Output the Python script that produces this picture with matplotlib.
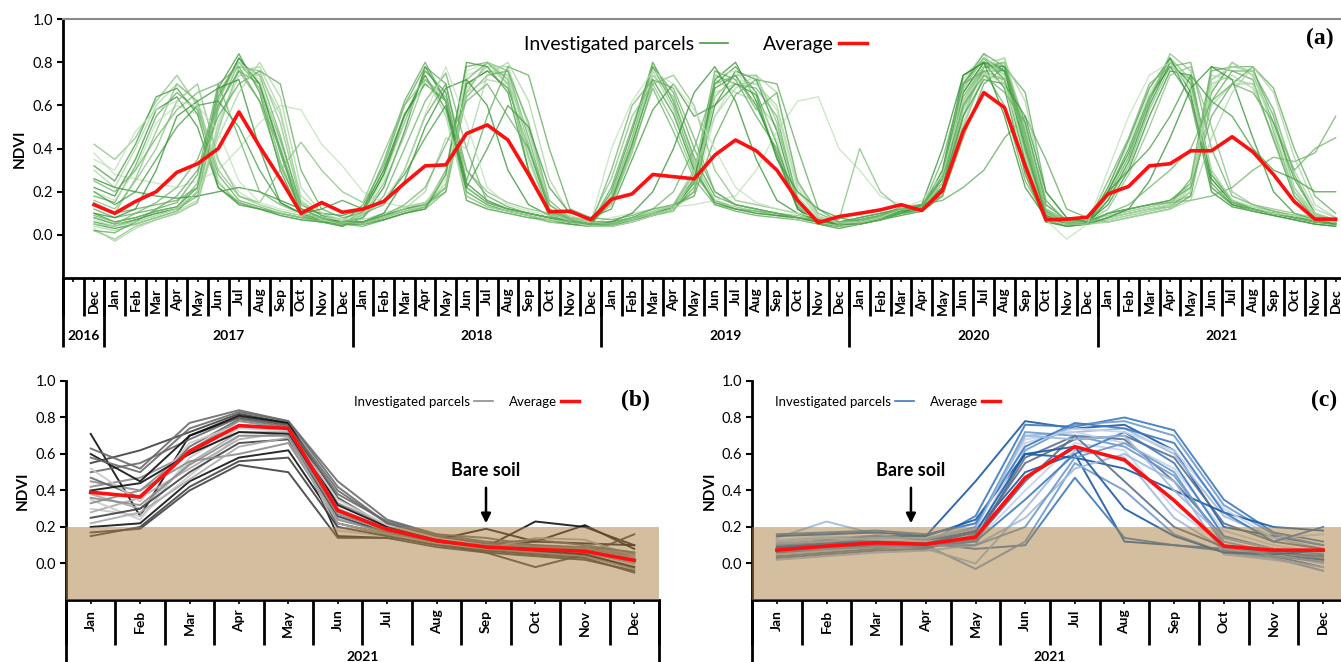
"""NDVI time series of investigated parcels: (a) Dec 2016 - Dec 2021, (b) and (c) 2021.

Writes out.png (1341x662).
"""

import matplotlib
matplotlib.use("Agg")
import matplotlib.pyplot as plt
import matplotlib.transforms as mtransforms
from matplotlib.lines import Line2D

plt.rcParams["font.family"] = ["Lato", "DejaVu Sans"]

MONTHS = ["Jan", "Feb", "Mar", "Apr", "May", "Jun",
          "Jul", "Aug", "Sep", "Oct", "Nov", "Dec"]

# panel (a): one blank slot, Dec 2016, then 2017..2021
months_a = ["", "Dec"] + MONTHS * 5
years_a = ["2016", "2017", "2018", "2019", "2020", "2021"]
year_len_a = [2, 12, 12, 12, 12, 12]

avg_a = [
    0.14,
    0.10, 0.155, 0.20, 0.29, 0.33, 0.40, 0.57, 0.41, 0.26, 0.10, 0.15, 0.105,
    0.12, 0.155, 0.24, 0.32, 0.325, 0.47, 0.51, 0.44, 0.28, 0.107, 0.11, 0.07,
    0.165, 0.19, 0.28, 0.27, 0.26, 0.37, 0.44, 0.39, 0.30, 0.16, 0.057, 0.085,
    0.10, 0.116, 0.14, 0.113, 0.205, 0.48, 0.66, 0.59, 0.32, 0.07, 0.073, 0.082,
    0.19, 0.225, 0.32, 0.33, 0.39, 0.39, 0.455, 0.385, 0.28, 0.155, 0.073, 0.073,
]

parcels_a = [
    [0.05,
     0.03, 0.05, 0.08, 0.11, 0.20, 0.62, 0.82, 0.70, 0.40, 0.10, 0.07, 0.04,
     0.08, 0.22, 0.48, 0.78, 0.62, 0.18, 0.13, 0.11, 0.09, 0.06, 0.05, 0.04,
     0.04, 0.06, 0.09, 0.12, 0.22, 0.68, 0.74, 0.60, 0.38, 0.12, 0.05, 0.03,
     0.05, 0.07, 0.10, 0.11, 0.28, 0.70, 0.82, 0.76, 0.35, 0.07, 0.04, 0.05,
     0.20, 0.38, 0.62, 0.82, 0.66, 0.22, 0.14, 0.11, 0.09, 0.07, 0.05, 0.04],
    [0.18,
     0.15, 0.32, 0.55, 0.66, 0.58, 0.28, 0.16, 0.13, 0.10, 0.08, 0.06, 0.05,
     0.04, 0.07, 0.10, 0.13, 0.30, 0.78, 0.80, 0.72, 0.30, 0.09, 0.06, 0.04,
     0.18, 0.45, 0.78, 0.60, 0.32, 0.14, 0.11, 0.09, 0.08, 0.07, 0.05, 0.04,
     0.07, 0.09, 0.13, 0.14, 0.22, 0.60, 0.78, 0.80, 0.45, 0.10, 0.06, 0.07,
     0.09, 0.11, 0.13, 0.15, 0.18, 0.72, 0.78, 0.76, 0.55, 0.22, 0.09, 0.06],
    [0.02,
     -0.02, 0.04, 0.07, 0.10, 0.15, 0.48, 0.78, 0.76, 0.52, 0.15, 0.09, 0.06,
     0.06, 0.09, 0.12, 0.15, 0.22, 0.70, 0.76, 0.74, 0.42, 0.12, 0.08, 0.06,
     0.14, 0.38, 0.70, 0.52, 0.28, 0.16, 0.13, 0.11, 0.10, 0.09, 0.07, 0.06,
     0.08, 0.10, 0.12, 0.13, 0.20, 0.58, 0.76, 0.72, 0.42, 0.09, 0.06, 0.06,
     0.16, 0.32, 0.58, 0.78, 0.72, 0.30, 0.16, 0.13, 0.11, 0.09, 0.07, 0.06],
    [0.30,
     0.22, 0.40, 0.60, 0.70, 0.62, 0.25, 0.14, 0.12, 0.09, 0.07, 0.06, 0.04,
     0.12, 0.30, 0.55, 0.74, 0.55, 0.16, 0.12, 0.10, 0.08, 0.06, 0.05, 0.04,
     0.05, 0.08, 0.11, 0.14, 0.30, 0.72, 0.66, 0.62, 0.50, 0.18, 0.07, 0.05,
     0.06, 0.08, 0.11, 0.13, 0.30, 0.72, 0.84, 0.70, 0.30, 0.06, 0.04, 0.05,
     0.07, 0.09, 0.11, 0.13, 0.22, 0.74, 0.72, 0.70, 0.45, 0.18, 0.07, 0.04],
    [0.10,
     0.06, 0.08, 0.11, 0.13, 0.22, 0.68, 0.84, 0.66, 0.30, 0.09, 0.06, 0.04,
     0.10, 0.28, 0.52, 0.76, 0.66, 0.22, 0.15, 0.12, 0.10, 0.08, 0.06, 0.05,
     0.20, 0.48, 0.80, 0.62, 0.36, 0.18, 0.14, 0.12, 0.10, 0.08, 0.06, 0.05,
     0.05, 0.07, 0.10, 0.12, 0.24, 0.66, 0.80, 0.78, 0.48, 0.11, 0.07, 0.06,
     0.10, 0.12, 0.14, 0.16, 0.24, 0.66, 0.80, 0.74, 0.52, 0.26, 0.10, 0.07],
    [0.38,
     0.28, 0.26, 0.24, 0.22, 0.25, 0.30, 0.40, 0.52, 0.60, 0.58, 0.42, 0.32,
     0.20, 0.15, 0.13, 0.15, 0.28, 0.74, 0.78, 0.70, 0.34, 0.10, 0.07, 0.05,
     0.06, 0.08, 0.10, 0.13, 0.18, 0.55, 0.72, 0.70, 0.58, 0.20, 0.08, 0.05,
     0.06, 0.08, 0.12, 0.12, 0.20, 0.62, 0.80, 0.82, 0.50, 0.12, 0.06, 0.05,
     0.22, 0.42, 0.66, 0.80, 0.68, 0.20, 0.13, 0.11, 0.10, 0.08, 0.06, 0.05],
    [0.08,
     0.05, 0.07, 0.10, 0.12, 0.18, 0.58, 0.80, 0.74, 0.46, 0.12, 0.08, 0.06,
     0.05, 0.07, 0.10, 0.12, 0.20, 0.72, 0.80, 0.76, 0.45, 0.12, 0.07, 0.05,
     0.04, 0.06, 0.09, 0.11, 0.25, 0.74, 0.70, 0.68, 0.55, 0.16, 0.06, 0.04,
     0.06, 0.08, 0.11, 0.12, 0.26, 0.68, 0.82, 0.74, 0.38, 0.08, 0.05, 0.05,
     0.08, 0.10, 0.12, 0.13, 0.20, 0.76, 0.78, 0.78, 0.48, 0.20, 0.08, 0.05],
    [0.22,
     0.18, 0.35, 0.58, 0.64, 0.50, 0.22, 0.15, 0.12, 0.10, 0.08, 0.07, 0.05,
     0.06, 0.09, 0.12, 0.14, 0.22, 0.70, 0.76, 0.68, 0.40, 0.11, 0.07, 0.05,
     0.05, 0.07, 0.10, 0.13, 0.20, 0.60, 0.76, 0.72, 0.48, 0.14, 0.06, 0.04,
     0.05, 0.07, 0.09, 0.11, 0.18, 0.55, 0.78, 0.78, 0.52, 0.14, 0.07, 0.06,
     0.14, 0.30, 0.55, 0.76, 0.74, 0.28, 0.16, 0.12, 0.10, 0.08, 0.07, 0.06],
    [0.12,
     0.08, 0.10, 0.12, 0.15, 0.28, 0.70, 0.78, 0.62, 0.32, 0.12, 0.08, 0.06,
     0.14, 0.32, 0.60, 0.78, 0.70, 0.30, 0.18, 0.13, 0.10, 0.08, 0.06, 0.05,
     0.06, 0.08, 0.10, 0.14, 0.28, 0.76, 0.72, 0.55, 0.40, 0.14, 0.07, 0.05,
     0.08, 0.10, 0.12, 0.14, 0.16, 0.22, 0.30, 0.45, 0.55, 0.35, 0.12, 0.08,
     0.06, 0.08, 0.10, 0.12, 0.18, 0.62, 0.76, 0.76, 0.58, 0.28, 0.10, 0.06],
    [0.15,
     0.10, 0.26, 0.48, 0.70, 0.62, 0.30, 0.18, 0.14, 0.11, 0.09, 0.07, 0.06,
     0.09, 0.24, 0.46, 0.72, 0.64, 0.22, 0.15, 0.12, 0.10, 0.08, 0.06, 0.05,
     0.16, 0.42, 0.74, 0.64, 0.34, 0.16, 0.12, 0.10, 0.09, 0.08, 0.07, 0.06,
     0.07, 0.09, 0.12, 0.13, 0.22, 0.62, 0.78, 0.76, 0.44, 0.10, 0.06, 0.06,
     0.18, 0.36, 0.62, 0.84, 0.76, 0.26, 0.15, 0.12, 0.10, 0.08, 0.06, 0.05],
    [0.04,
     0.02, 0.05, 0.08, 0.11, 0.16, 0.52, 0.76, 0.78, 0.58, 0.16, 0.09, 0.06,
     0.06, 0.08, 0.11, 0.14, 0.24, 0.68, 0.78, 0.78, 0.50, 0.14, 0.08, 0.06,
     0.18, 0.44, 0.76, 0.58, 0.30, 0.15, 0.12, 0.10, 0.09, 0.07, 0.06, 0.05,
     0.05, 0.07, 0.10, 0.11, 0.22, 0.64, 0.80, 0.74, 0.36, 0.08, 0.05, 0.05,
     0.07, 0.09, 0.11, 0.13, 0.24, 0.70, 0.74, 0.68, 0.46, 0.20, 0.09, 0.05],
    [0.06,
     0.04, 0.07, 0.10, 0.12, 0.20, 0.64, 0.82, 0.70, 0.38, 0.10, 0.07, 0.05,
     0.11, 0.28, 0.55, 0.74, 0.58, 0.20, 0.14, 0.11, 0.09, 0.07, 0.05, 0.04,
     0.04, 0.07, 0.09, 0.12, 0.24, 0.70, 0.78, 0.66, 0.42, 0.13, 0.06, 0.04,
     0.06, 0.08, 0.11, 0.12, 0.24, 0.68, 0.82, 0.72, 0.34, 0.07, 0.05, 0.05,
     0.20, 0.40, 0.64, 0.78, 0.64, 0.24, 0.14, 0.12, 0.10, 0.08, 0.06, 0.05],
    [0.20,
     0.16, 0.30, 0.52, 0.60, 0.56, 0.34, 0.20, 0.14, 0.10, 0.08, 0.06, 0.05,
     0.05, 0.08, 0.11, 0.14, 0.26, 0.76, 0.80, 0.74, 0.38, 0.10, 0.07, 0.05,
     0.08, 0.10, 0.12, 0.13, 0.14, 0.16, 0.18, 0.30, 0.48, 0.62, 0.64, 0.40,
     0.30, 0.18, 0.14, 0.13, 0.20, 0.56, 0.76, 0.70, 0.40, 0.09, 0.06, 0.06,
     0.09, 0.11, 0.13, 0.15, 0.20, 0.68, 0.80, 0.74, 0.50, 0.22, 0.10, 0.07],
    [0.09,
     0.06, 0.08, 0.11, 0.13, 0.24, 0.66, 0.80, 0.68, 0.34, 0.10, 0.07, 0.05,
     0.06, 0.08, 0.12, 0.14, 0.20, 0.64, 0.74, 0.76, 0.52, 0.16, 0.08, 0.06,
     0.15, 0.40, 0.68, 0.48, 0.26, 0.14, 0.12, 0.11, 0.09, 0.08, 0.06, 0.05,
     0.07, 0.09, 0.12, 0.13, 0.20, 0.60, 0.76, 0.76, 0.46, 0.11, 0.06, 0.06,
     0.10, 0.12, 0.14, 0.15, 0.16, 0.18, 0.22, 0.30, 0.36, 0.34, 0.38, 0.55],
    [0.26,
     0.22, 0.20, 0.18, 0.17, 0.18, 0.20, 0.22, 0.20, 0.16, 0.12, 0.10, 0.09,
     0.12, 0.30, 0.56, 0.70, 0.62, 0.24, 0.16, 0.12, 0.10, 0.08, 0.06, 0.05,
     0.05, 0.07, 0.10, 0.13, 0.26, 0.72, 0.80, 0.62, 0.36, 0.12, 0.06, 0.04,
     0.06, 0.08, 0.11, 0.12, 0.30, 0.74, 0.80, 0.68, 0.28, 0.06, 0.04, 0.05,
     0.16, 0.34, 0.60, 0.80, 0.70, 0.26, 0.15, 0.12, 0.10, 0.08, 0.06, 0.05],
    [0.14,
     0.10, 0.12, 0.14, 0.16, 0.22, 0.60, 0.76, 0.70, 0.44, 0.14, 0.09, 0.07,
     0.12, 0.34, 0.62, 0.80, 0.62, 0.16, 0.12, 0.10, 0.08, 0.07, 0.06, 0.05,
     0.22, 0.50, 0.78, 0.66, 0.40, 0.20, 0.14, 0.12, 0.10, 0.08, 0.06, 0.05,
     0.06, 0.08, 0.11, 0.13, 0.26, 0.70, 0.84, 0.78, 0.42, 0.09, 0.05, 0.05,
     0.08, 0.10, 0.12, 0.14, 0.26, 0.78, 0.76, 0.72, 0.44, 0.18, 0.08, 0.05],
    [0.42,
     0.35, 0.45, 0.62, 0.74, 0.60, 0.24, 0.15, 0.12, 0.10, 0.08, 0.06, 0.05,
     0.05, 0.08, 0.11, 0.13, 0.22, 0.66, 0.80, 0.70, 0.36, 0.10, 0.06, 0.05,
     0.05, 0.07, 0.10, 0.12, 0.20, 0.64, 0.74, 0.74, 0.52, 0.16, 0.07, 0.05,
     0.06, 0.09, 0.12, 0.13, 0.24, 0.64, 0.78, 0.80, 0.48, 0.10, 0.06, 0.06,
     0.18, 0.36, 0.64, 0.82, 0.72, 0.28, 0.15, 0.12, 0.10, 0.08, 0.06, 0.05],
    [0.03,
     -0.03, 0.03, 0.07, 0.10, 0.15, 0.50, 0.74, 0.74, 0.56, 0.18, 0.10, 0.07,
     0.07, 0.10, 0.13, 0.15, 0.22, 0.66, 0.72, 0.70, 0.48, 0.14, 0.08, 0.06,
     0.05, 0.08, 0.11, 0.13, 0.22, 0.66, 0.70, 0.70, 0.60, 0.22, 0.08, 0.05,
     0.05, 0.08, 0.11, 0.12, 0.22, 0.60, 0.78, 0.82, 0.50, 0.12, 0.06, 0.05,
     0.06, 0.08, 0.10, 0.12, 0.20, 0.60, 0.70, 0.70, 0.56, 0.30, 0.12, 0.08],
    [0.32,
     0.25, 0.42, 0.64, 0.68, 0.56, 0.22, 0.14, 0.12, 0.09, 0.07, 0.06, 0.05,
     0.05, 0.07, 0.10, 0.12, 0.28, 0.80, 0.78, 0.66, 0.30, 0.09, 0.06, 0.05,
     0.16, 0.42, 0.72, 0.56, 0.30, 0.15, 0.12, 0.10, 0.09, 0.08, 0.06, 0.05,
     0.06, 0.08, 0.11, 0.12, 0.22, 0.66, 0.80, 0.76, 0.40, 0.09, 0.05, 0.05,
     0.22, 0.44, 0.68, 0.82, 0.62, 0.20, 0.13, 0.11, 0.09, 0.07, 0.05, 0.04],
    [0.07,
     0.04, 0.06, 0.09, 0.12, 0.20, 0.62, 0.80, 0.72, 0.42, 0.11, 0.07, 0.05,
     0.10, 0.26, 0.52, 0.72, 0.56, 0.18, 0.13, 0.11, 0.09, 0.07, 0.06, 0.04,
     0.04, 0.06, 0.09, 0.12, 0.28, 0.74, 0.76, 0.64, 0.44, 0.14, 0.06, 0.04,
     0.05, 0.07, 0.10, 0.12, 0.24, 0.68, 0.82, 0.74, 0.36, 0.07, -0.02, 0.05,
     0.08, 0.10, 0.12, 0.14, 0.22, 0.72, 0.78, 0.76, 0.50, 0.22, 0.08, 0.05],
    [0.25,
     0.20, 0.30, 0.45, 0.58, 0.66, 0.70, 0.45, 0.20, 0.14, 0.10, 0.08, 0.06,
     0.08, 0.18, 0.40, 0.62, 0.75, 0.40, 0.15, 0.12, 0.10, 0.08, 0.06, 0.05,
     0.30, 0.60, 0.72, 0.68, 0.45, 0.20, 0.14, 0.12, 0.10, 0.08, 0.07, 0.06,
     0.06, 0.08, 0.10, 0.12, 0.35, 0.70, 0.76, 0.60, 0.25, 0.08, 0.05, 0.05,
     0.25, 0.45, 0.70, 0.78, 0.80, 0.40, 0.18, 0.14, 0.11, 0.09, 0.07, 0.06],
    [0.10,
     0.08, 0.12, 0.30, 0.55, 0.62, 0.68, 0.72, 0.40, 0.15, 0.10, 0.08, 0.06,
     0.06, 0.10, 0.25, 0.50, 0.68, 0.72, 0.60, 0.30, 0.14, 0.09, 0.07, 0.06,
     0.06, 0.10, 0.20, 0.40, 0.66, 0.78, 0.62, 0.35, 0.16, 0.10, 0.07, 0.05,
     0.05, 0.07, 0.10, 0.14, 0.40, 0.74, 0.80, 0.55, 0.22, 0.08, 0.05, 0.05,
     0.08, 0.12, 0.25, 0.45, 0.68, 0.78, 0.72, 0.45, 0.20, 0.10, 0.07, 0.05],
    [0.02,
     0.01, 0.06, 0.12, 0.18, 0.30, 0.55, 0.70, 0.76, 0.70, 0.30, 0.12, 0.08,
     0.10, 0.14, 0.30, 0.55, 0.70, 0.25, 0.55, 0.78, 0.74, 0.40, 0.12, 0.08,
     0.07, 0.09, 0.12, 0.14, 0.18, 0.45, 0.65, 0.72, 0.70, 0.40, 0.12, 0.06,
     0.08, 0.10, 0.12, 0.14, 0.18, 0.45, 0.70, 0.78, 0.66, 0.20, 0.08, 0.06,
     0.10, 0.12, 0.14, 0.16, 0.22, 0.55, 0.70, 0.78, 0.68, 0.40, 0.18, 0.10],
    [0.16,
     0.12, 0.25, 0.40, 0.62, 0.70, 0.35, 0.18, 0.15, 0.30, 0.43, 0.30, 0.20,
     0.15, 0.38, 0.60, 0.72, 0.62, 0.30, 0.20, 0.15, 0.12, 0.10, 0.08, 0.07,
     0.26, 0.55, 0.70, 0.74, 0.60, 0.30, 0.16, 0.14, 0.12, 0.10, 0.08, 0.07,
     0.40, 0.20, 0.12, 0.12, 0.18, 0.50, 0.74, 0.72, 0.45, 0.12, 0.07, 0.06,
     0.12, 0.28, 0.50, 0.74, 0.78, 0.50, 0.20, 0.14, 0.12, 0.10, 0.08, 0.06],
    [0.05,
     0.04, 0.06, 0.09, 0.12, 0.20, 0.45, 0.66, 0.80, 0.64, 0.22, 0.10, 0.06,
     0.05, 0.08, 0.12, 0.20, 0.45, 0.40, 0.74, 0.80, 0.62, 0.26, 0.09, 0.06,
     0.05, 0.07, 0.10, 0.14, 0.30, 0.55, 0.68, 0.74, 0.66, 0.24, 0.09, 0.05,
     0.06, 0.08, 0.10, 0.12, 0.20, 0.52, 0.74, 0.80, 0.62, 0.16, 0.06, 0.05,
     0.06, 0.08, 0.10, 0.12, 0.16, 0.45, 0.66, 0.78, 0.66, 0.36, 0.14, 0.08],
    [0.20,
     0.14, 0.20, 0.35, 0.50, 0.60, 0.62, 0.50, 0.30, 0.15, 0.10, 0.12, 0.16,
     0.12, 0.16, 0.28, 0.45, 0.60, 0.22, 0.40, 0.60, 0.50, 0.22, 0.10, 0.08,
     0.12, 0.35, 0.58, 0.70, 0.55, 0.60, 0.70, 0.65, 0.35, 0.20, 0.12, 0.08,
     0.06, 0.08, 0.10, 0.12, 0.22, 0.55, 0.72, 0.70, 0.55, 0.20, 0.08, 0.06,
     0.20, 0.30, 0.40, 0.55, 0.74, 0.62, 0.55, 0.40, 0.30, 0.26, 0.20, 0.20],
    [0.35,
     0.30, 0.48, 0.58, 0.62, 0.60, 0.48, 0.25, 0.15, 0.12, 0.10, 0.08, 0.07,
     0.10, 0.16, 0.30, 0.56, 0.78, 0.52, 0.22, 0.14, 0.11, 0.09, 0.07, 0.06,
     0.40, 0.62, 0.76, 0.70, 0.58, 0.40, 0.22, 0.15, 0.12, 0.10, 0.08, 0.06,
     0.06, 0.08, 0.12, 0.16, 0.28, 0.62, 0.75, 0.70, 0.30, 0.07, 0.05, 0.05,
     0.30, 0.55, 0.74, 0.80, 0.68, 0.30, 0.16, 0.13, 0.10, 0.09, 0.07, 0.06],
    [0.08,
     0.05, 0.10, 0.15, 0.22, 0.35, 0.60, 0.76, 0.62, 0.40, 0.12, 0.08, 0.05,
     0.06, 0.09, 0.14, 0.22, 0.42, 0.62, 0.70, 0.55, 0.40, 0.14, 0.07, 0.05,
     0.05, 0.08, 0.12, 0.20, 0.40, 0.70, 0.74, 0.58, 0.66, 0.25, 0.10, 0.06,
     0.07, 0.09, 0.12, 0.14, 0.26, 0.60, 0.74, 0.66, 0.52, 0.16, 0.06, 0.05,
     0.10, 0.14, 0.22, 0.30, 0.40, 0.62, 0.70, 0.66, 0.52, 0.30, 0.40, 0.45],
]

# panels (b) and (c): Jan..Dec 2021
avg_b = [0.39, 0.365, 0.615, 0.755, 0.74, 0.29, 0.187, 0.125, 0.09, 0.077, 0.067, 0.017]
parcels_b = [
    [0.71, 0.26, 0.70, 0.80, 0.76, 0.15, 0.14, 0.12, 0.10, 0.12, 0.11, 0.10],
    [0.55, 0.62, 0.72, 0.82, 0.77, 0.36, 0.20, 0.12, 0.08, 0.06, 0.05, 0.02],
    [0.63, 0.52, 0.77, 0.84, 0.78, 0.45, 0.24, 0.16, 0.12, 0.10, 0.08, 0.04],
    [0.45, 0.40, 0.62, 0.78, 0.74, 0.30, 0.19, 0.13, 0.09, 0.07, 0.06, 0.00],
    [0.38, 0.30, 0.55, 0.72, 0.72, 0.25, 0.17, 0.11, 0.08, 0.08, 0.07, 0.03],
    [0.30, 0.26, 0.48, 0.70, 0.70, 0.20, 0.16, 0.10, 0.07, 0.05, 0.04, -0.02],
    [0.20, 0.22, 0.45, 0.58, 0.62, 0.22, 0.16, 0.12, 0.09, 0.23, 0.20, 0.10],
    [0.17, 0.19, 0.40, 0.54, 0.50, 0.14, 0.14, 0.09, 0.06, 0.04, 0.02, -0.04],
    [0.50, 0.55, 0.68, 0.80, 0.76, 0.40, 0.22, 0.15, 0.11, 0.09, 0.08, 0.05],
    [0.42, 0.47, 0.60, 0.76, 0.74, 0.33, 0.21, 0.14, 0.10, 0.08, 0.07, 0.03],
    [0.28, 0.36, 0.52, 0.68, 0.72, 0.28, 0.18, 0.12, 0.09, 0.07, 0.06, 0.01],
    [0.35, 0.24, 0.58, 0.74, 0.73, 0.18, 0.15, 0.10, 0.08, 0.06, 0.05, -0.01],
    [0.60, 0.45, 0.70, 0.81, 0.77, 0.32, 0.20, 0.13, 0.19, 0.12, 0.21, 0.08],
    [0.25, 0.30, 0.50, 0.66, 0.68, 0.26, 0.17, 0.11, 0.06, -0.02, 0.05, 0.16],
    [0.47, 0.36, 0.64, 0.79, 0.75, 0.38, 0.23, 0.16, 0.14, 0.10, 0.09, 0.06],
    [0.33, 0.40, 0.56, 0.60, 0.66, 0.24, 0.17, 0.12, 0.08, 0.06, 0.04, -0.03],
    [0.22, 0.28, 0.46, 0.64, 0.69, 0.22, 0.16, 0.11, 0.08, 0.14, 0.13, 0.04],
    [0.52, 0.34, 0.66, 0.76, 0.73, 0.35, 0.21, 0.14, 0.10, 0.08, 0.06, 0.02],
    [0.40, 0.44, 0.60, 0.72, 0.71, 0.29, 0.18, 0.12, 0.09, 0.07, 0.05, -0.02],
    [0.15, 0.20, 0.42, 0.56, 0.58, 0.20, 0.15, 0.10, 0.07, 0.05, 0.03, -0.05],
    [0.58, 0.50, 0.74, 0.83, 0.78, 0.42, 0.22, 0.15, 0.11, 0.13, 0.10, 0.06],
    [0.36, 0.32, 0.54, 0.70, 0.70, 0.27, 0.18, 0.12, 0.10, 0.09, 0.08, 0.05],
]

avg_c = [0.073, 0.095, 0.113, 0.105, 0.145, 0.47, 0.64, 0.567, 0.345, 0.095, 0.073, 0.073]
parcels_c = [
    [0.12, 0.14, 0.15, 0.15, 0.45, 0.78, 0.74, 0.76, 0.62, 0.20, 0.15, 0.10],
    [0.10, 0.12, 0.12, 0.11, 0.26, 0.76, 0.75, 0.80, 0.73, 0.35, 0.17, 0.12],
    [0.08, 0.10, 0.11, 0.10, 0.10, 0.62, 0.76, 0.78, 0.70, 0.32, 0.16, 0.10],
    [0.14, 0.23, 0.16, 0.12, 0.20, 0.70, 0.72, 0.74, 0.60, 0.26, 0.14, 0.08],
    [0.06, 0.08, 0.10, 0.10, 0.12, 0.40, 0.66, 0.62, 0.30, 0.10, 0.06, 0.04],
    [0.04, 0.06, 0.08, 0.09, 0.14, 0.58, 0.70, 0.68, 0.45, 0.14, 0.08, 0.02],
    [0.09, 0.11, 0.12, 0.12, 0.18, 0.50, 0.60, 0.12, 0.10, 0.08, 0.05, 0.02],
    [0.11, 0.12, 0.13, 0.11, 0.08, 0.10, 0.47, 0.14, 0.10, 0.07, 0.04, -0.02],
    [0.07, 0.09, 0.11, 0.10, -0.03, 0.12, 0.55, 0.40, 0.16, 0.06, 0.03, -0.04],
    [0.05, 0.07, 0.09, 0.08, 0.00, 0.30, 0.62, 0.58, 0.25, 0.08, 0.05, 0.00],
    [0.13, 0.15, 0.14, 0.13, 0.22, 0.68, 0.72, 0.66, 0.52, 0.18, 0.10, 0.06],
    [0.03, 0.05, 0.07, 0.08, 0.16, 0.55, 0.68, 0.70, 0.58, 0.22, 0.12, 0.08],
    [0.15, 0.16, 0.17, 0.15, 0.24, 0.60, 0.58, 0.52, 0.40, 0.28, 0.20, 0.18],
    [0.08, 0.09, 0.10, 0.09, 0.12, 0.35, 0.60, 0.72, 0.55, 0.15, 0.08, 0.05],
    [0.10, 0.13, 0.15, 0.13, 0.20, 0.72, 0.70, 0.64, 0.48, 0.12, 0.06, 0.03],
    [0.02, 0.04, 0.06, 0.07, 0.10, 0.25, 0.52, 0.60, 0.45, 0.05, 0.02, -0.02],
    [0.12, 0.14, 0.13, 0.12, 0.15, 0.66, 0.74, 0.72, 0.62, 0.30, 0.14, 0.16],
    [0.06, 0.08, 0.10, 0.10, 0.13, 0.45, 0.70, 0.45, 0.20, 0.09, 0.06, 0.04],
    [0.09, 0.10, 0.12, 0.11, 0.17, 0.60, 0.64, 0.30, 0.15, 0.06, 0.05, 0.07],
    [0.16, 0.17, 0.18, 0.16, 0.22, 0.64, 0.77, 0.74, 0.66, 0.28, 0.12, 0.20],
    [0.07, 0.08, 0.09, 0.10, 0.10, 0.20, 0.58, 0.66, 0.50, 0.10, 0.04, 0.01],
    [0.11, 0.12, 0.14, 0.14, 0.19, 0.70, 0.68, 0.70, 0.40, 0.14, 0.08, 0.06],
]

GREENS = ["#2f8f2f", "#5aa855", "#80c07a", "#a3d29d", "#3e9a3b", "#bde0b7", "#68b163"]
GRAYS = ["#111111", "#404040", "#6a6a6a", "#8c8c8c", "#ababab", "#c9c9c9"]
BLUES = ["#1c5aa6", "#3d79be", "#6e98cc", "#9fbadf", "#c4d4ea", "#5b6f8c"]
RED = "#ff1010"
SOIL = "#a98141"


def category_axis(ax, labels, groups, group_len, month_drop, year_drop, year_y):
    n = len(labels)
    ax.set_xlim(-0.5, n - 0.5)
    ax.set_xticks(range(n))
    ax.set_xticklabels(labels, rotation=90, fontsize=10, fontweight="bold")
    ax.tick_params(axis="x", length=3, width=1.2, pad=4)
    tr = mtransforms.blended_transform_factory(ax.transData, ax.transAxes)
    for i in range(n + 1):
        ax.plot([i - 0.5, i - 0.5], [0, month_drop], transform=tr,
                color="black", lw=2, clip_on=False, solid_capstyle="butt")
    start = 0
    for name, length in zip(groups, group_len):
        ax.plot([start - 0.5, start - 0.5], [0, year_drop], transform=tr,
                color="black", lw=2, clip_on=False, solid_capstyle="butt")
        ax.text(start - 0.5 + length / 2, year_y, name, transform=tr,
                ha="center", va="center", fontsize=10, fontweight="bold")
        start += length
    ax.plot([start - 0.5, start - 0.5], [0, year_drop], transform=tr,
            color="black", lw=2, clip_on=False, solid_capstyle="butt")


def style_y(ax):
    ax.set_ylim(-0.2, 1.0)
    ax.set_yticks([0.0, 0.2, 0.4, 0.6, 0.8, 1.0])
    ax.set_yticklabels(["0.0", "0.2", "0.4", "0.6", "0.8", "1.0"], fontsize=10.5)
    ax.tick_params(axis="y", length=4, width=1.5, pad=3)
    ax.set_ylabel("NDVI", fontsize=11, fontweight="bold", labelpad=4)
    ax.spines["left"].set_linewidth(2)
    ax.spines["bottom"].set_linewidth(2)
    ax.spines["right"].set_visible(False)


def legend(ax, colour, x, y, fontsize, gap):
    handles = [Line2D([], [], color=colour, lw=1.2),
               Line2D([], [], color=RED, lw=2.5)]
    ax.legend(handles, ["Investigated parcels", "Average"], ncol=2,
              markerfirst=False, frameon=False, loc="center",
              bbox_to_anchor=(x, y), fontsize=fontsize, handlelength=1.4,
              handletextpad=0.3, columnspacing=gap, borderpad=0)


fig = plt.figure(figsize=(13.41, 6.62), dpi=100)

# ---- (a)
ax = fig.add_axes([0.0470, 0.580, 0.9567, 0.391])
x_a = list(range(1, len(avg_a) + 1))
for k, series in enumerate(parcels_a):
    ax.plot(x_a, series, color=GREENS[k % len(GREENS)], lw=1.0, alpha=0.75, zorder=2)
ax.plot(x_a, avg_a, color=RED, lw=2.6, zorder=4)
style_y(ax)
ax.spines["top"].set_color("#8a8a8a")
ax.spines["top"].set_linewidth(1.5)
category_axis(ax, months_a, years_a, year_len_a, -0.147, -0.266, -0.224)
legend(ax, "#4a9a45", 0.493, 0.903, 14, 1.8)
ax.text(0.98, 0.927, "(a)", transform=ax.transAxes, ha="center", va="center",
        fontsize=17, fontweight="bold", family="Liberation Serif")

# ---- (b) and (c)
panels = [
    ([0.0492, 0.0937, 0.4422, 0.3308], parcels_b, avg_b, GRAYS, "#8c8c8c",
     0.676, "(b)", 0.96, 8.0),
    ([0.5608, 0.0937, 0.4444, 0.3308], parcels_c, avg_c, BLUES, "#3d79be",
     0.228, "(c)", 0.96, 2.7),
]
for rect, parcels, avg, shades, leg_colour, leg_x, tag, tag_x, arrow_x in panels:
    ax = fig.add_axes(rect)
    x = list(range(len(avg)))
    for k, series in enumerate(parcels):
        ax.plot(x, series, color=shades[k % len(shades)], lw=1.4, alpha=0.9, zorder=2)
    ax.axhspan(-0.2, 0.2, color=SOIL, alpha=0.5, lw=0, zorder=3)
    ax.plot(x, avg, color=RED, lw=2.6, zorder=4)
    style_y(ax)
    ax.spines["top"].set_visible(False)
    category_axis(ax, MONTHS, ["2021"], [12], -0.205, -0.40, -0.26)
    legend(ax, leg_colour, leg_x, 0.904, 9.5, 1.2)
    ax.text(tag_x, 0.91, tag, transform=ax.transAxes, ha="center", va="center",
            fontsize=17, fontweight="bold", family="Liberation Serif")
    ax.annotate("", xy=(arrow_x, 0.205), xytext=(arrow_x, 0.43),
                arrowprops=dict(arrowstyle="-|>", color="black", lw=1.8,
                                mutation_scale=14), zorder=5)
    ax.text(arrow_x, 0.51, "Bare soil", ha="center", va="center",
            fontsize=13, fontweight="bold", zorder=5)

fig.savefig("out.png", dpi=100)
